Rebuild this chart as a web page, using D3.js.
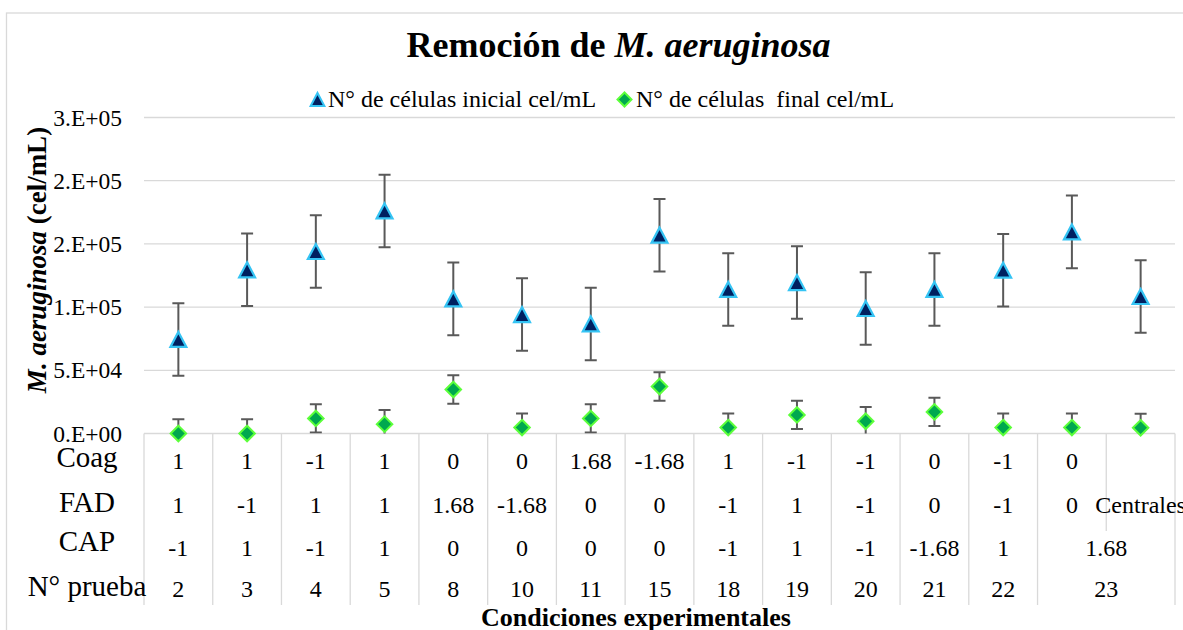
<!DOCTYPE html>
<html>
<head>
<meta charset="utf-8">
<script src="https://cdn.jsdelivr.net/npm/d3@7"></script>
<style>
  html, body { margin: 0; padding: 0; background: #ffffff; }
  svg { display: block; font-family: "Liberation Serif", "Times New Roman", serif; }
</style>
</head>
<body>
<svg id="chart" width="1183" height="630"></svg>
<script>
// ---------------- data ----------------
const seriesNames = ["N° de células inicial cel/mL", "N° de células  final cel/mL"];
const inicial = [74400, 129500, 144000, 176100, 106500, 94100, 86700, 156900, 114000, 119400, 98900, 114000, 129200, 159500, 108400];
const final   = [0, 0, 11900, 7400, 34800, 4700, 11900, 37200, 4700, 14700, 9700, 17100, 4700, 4700, 4500];
const errInicial = 28700;
const errFinal = 11200;

const coag = ["1", "1", "-1", "1", "0", "0", "1.68", "-1.68", "1", "-1", "-1", "0", "-1", "0", ""];
const fad  = ["1", "-1", "1", "1", "1.68", "-1.68", "0", "0", "-1", "1", "-1", "0", "-1", "0", "Centrales"];
// groups: [label, span]
const cap = [["-1",1],["1",1],["-1",1],["1",1],["0",1],["0",1],["0",1],["0",1],["-1",1],["1",1],["-1",1],["-1.68",1],["1",1],["1.68",2]];
const prueba = [["2",1],["3",1],["4",1],["5",1],["8",1],["10",1],["11",1],["15",1],["18",1],["19",1],["20",1],["21",1],["22",1],["23",2]];
const rowLabels = ["Coag", "FAD", "CAP", "N° prueba"];

const yTickValues = [0, 50000, 100000, 150000, 200000, 250000];
const yTickLabels = ["0.E+00", "5.E+04", "1.E+05", "2.E+05", "2.E+05", "3.E+05"];

// ---------------- layout ----------------
const svg = d3.select("#chart");
const plotL = 144, plotR = 1175, plotT = 117.5, plotB = 433.5;
const gridColor = "#d9d9d9";
const serif = "'Liberation Serif', 'Times New Roman', serif";

const x = d3.scaleBand().domain(d3.range(inicial.length)).range([plotL, plotR]).padding(0);
const y = d3.scaleLinear().domain([0, 250000]).range([plotB, plotT]);

// chart border
svg.append("rect").attr("x", 6.5).attr("y", 13).attr("width", 1300).attr("height", 700)
  .attr("fill", "none").attr("stroke", gridColor).attr("stroke-width", 1.3);

// title
const title = svg.append("text").attr("x", 618.5).attr("y", 57).attr("text-anchor", "middle")
  .attr("font-size", 36).attr("font-weight", "bold").attr("fill", "#000");
title.append("tspan").text("Remoción de ");
title.append("tspan").attr("font-style", "italic").text("M. aeruginosa");

// gridlines
svg.append("g").selectAll("line").data(yTickValues).join("line")
  .attr("x1", plotL).attr("x2", plotR)
  .attr("y1", d => y(d)).attr("y2", d => y(d))
  .attr("stroke", gridColor).attr("stroke-width", 1.3);

// y axis labels
const yAxis = d3.axisLeft(y).tickValues(yTickValues)
  .tickFormat((d, i) => yTickLabels[i]).tickSize(0).tickPadding(22);
const yg = svg.append("g").attr("transform", `translate(${plotL},0)`).call(yAxis);
yg.attr("font-family", serif);
yg.select(".domain").remove();
yg.selectAll("text").attr("font-size", 23.5).attr("fill", "#000").attr("font-family", serif);

// y title
const yt = svg.append("text").attr("transform", "translate(46,260) rotate(-90)")
  .attr("text-anchor", "middle").attr("font-size", 27).attr("font-weight", "bold");
yt.append("tspan").attr("font-style", "italic").text("M. aeruginosa");
yt.append("tspan").text(" (cel/mL)");

// ---------------- category table ----------------
const tableBottom = 605;
const rowSplitFAD = 531;   // bottom of FAD row
const table = svg.append("g");
const boundaries = d3.range(inicial.length + 1);
boundaries.forEach(i => {
  const bx = i < inicial.length ? x(i) : plotR;
  // boundary between the last two columns exists only in Coag and FAD rows
  const bottom = (i === inicial.length - 1) ? rowSplitFAD : tableBottom;
  table.append("line").attr("x1", bx).attr("x2", bx).attr("y1", plotB).attr("y2", bottom)
    .attr("stroke", gridColor).attr("stroke-width", 1.3);
});

const labelBase = [467, 511.5, 550.5, 595.5];
const valueBase = [469, 513, 556, 597];
table.selectAll("text.rowlab").data(rowLabels).join("text").attr("class", "rowlab")
  .attr("x", 87).attr("y", (d, i) => labelBase[i]).attr("text-anchor", "middle")
  .attr("font-size", 29).text(d => d);

function simpleRow(arr, base) {
  table.append("g").selectAll("text").data(arr).join("text")
    .attr("x", (d, i) => x(i) + x.bandwidth() / 2).attr("y", base)
    .attr("text-anchor", "middle").attr("font-size", 24).text(d => d);
}
function groupRow(arr, base) {
  let idx = 0;
  const items = arr.map(([lab, span]) => { const o = {lab, start: idx, span}; idx += span; return o; });
  table.append("g").selectAll("text").data(items).join("text")
    .attr("x", d => x(d.start) + x.bandwidth() * d.span / 2).attr("y", base)
    .attr("text-anchor", "middle").attr("font-size", 24).text(d => d.lab);
}
simpleRow(coag, valueBase[0]);
simpleRow(fad, valueBase[1]);
groupRow(cap, valueBase[2]);
groupRow(prueba, valueBase[3]);

// x title
svg.append("text").attr("x", 636).attr("y", 626).attr("text-anchor", "middle")
  .attr("font-size", 26).attr("font-weight", "bold").text("Condiciones experimentales");

// ---------------- error bars & markers ----------------
svg.append("defs").append("clipPath").attr("id", "plotclip")
  .append("rect").attr("x", plotL).attr("y", plotT - 20).attr("width", plotR - plotL).attr("height", plotB - plotT + 20);

const errColor = "#595959";
function errorBars(vals, err) {
  const g = svg.append("g").attr("clip-path", "url(#plotclip)");
  const cx = i => x(i) + x.bandwidth() / 2;
  g.selectAll("line.v").data(vals).join("line").attr("class", "v")
    .attr("x1", (d, i) => cx(i)).attr("x2", (d, i) => cx(i))
    .attr("y1", d => y(d + err)).attr("y2", d => y(d - err))
    .attr("stroke", errColor).attr("stroke-width", 2);
  g.selectAll("line.t").data(vals).join("line").attr("class", "t")
    .attr("x1", (d, i) => cx(i) - 6).attr("x2", (d, i) => cx(i) + 6)
    .attr("y1", d => y(d + err)).attr("y2", d => y(d + err))
    .attr("stroke", errColor).attr("stroke-width", 2);
  g.selectAll("line.b").data(vals).join("line").attr("class", "b")
    .attr("x1", (d, i) => cx(i) - 6).attr("x2", (d, i) => cx(i) + 6)
    .attr("y1", d => y(d - err)).attr("y2", d => y(d - err))
    .attr("stroke", errColor).attr("stroke-width", 2);
}
errorBars(inicial, errInicial);
errorBars(final, errFinal);

const triPath = s => `M0,${-s/2} L${s*0.53},${s/2} L${-s*0.53},${s/2} Z`;
const diaPath = s => `M0,${-s/2} L${s/2},0 L0,${s/2} L${-s/2},0 Z`;
const triStyle = {fill: "#002060", stroke: "#35C4F4"};
const diaStyle = {fill: "#00A84F", stroke: "#5CFF3A"};

svg.append("g").selectAll("path").data(inicial).join("path")
  .attr("transform", (d, i) => `translate(${x(i) + x.bandwidth() / 2},${y(d)})`)
  .attr("d", triPath(15)).attr("fill", triStyle.fill).attr("stroke", triStyle.stroke).attr("stroke-width", 2.2)
  .attr("stroke-linejoin", "miter");
svg.append("g").selectAll("path").data(final).join("path")
  .attr("transform", (d, i) => `translate(${x(i) + x.bandwidth() / 2},${y(d)})`)
  .attr("d", diaPath(15.5)).attr("fill", diaStyle.fill).attr("stroke", diaStyle.stroke).attr("stroke-width", 2);

// ---------------- legend ----------------
const legend = svg.append("g");
legend.append("path").attr("transform", "translate(317.5,99.5)").attr("d", triPath(13))
  .attr("fill", triStyle.fill).attr("stroke", triStyle.stroke).attr("stroke-width", 2);
legend.append("text").attr("x", 328).attr("y", 106.5).attr("font-size", 24).text(seriesNames[0]);
legend.append("path").attr("transform", "translate(624.5,99.5)").attr("d", diaPath(14))
  .attr("fill", diaStyle.fill).attr("stroke", diaStyle.stroke).attr("stroke-width", 2);
legend.append("text").attr("x", 636).attr("y", 106.5).attr("font-size", 24)
  .attr("xml:space", "preserve").style("white-space", "pre").text(seriesNames[1]);
</script>
</body>
</html>
